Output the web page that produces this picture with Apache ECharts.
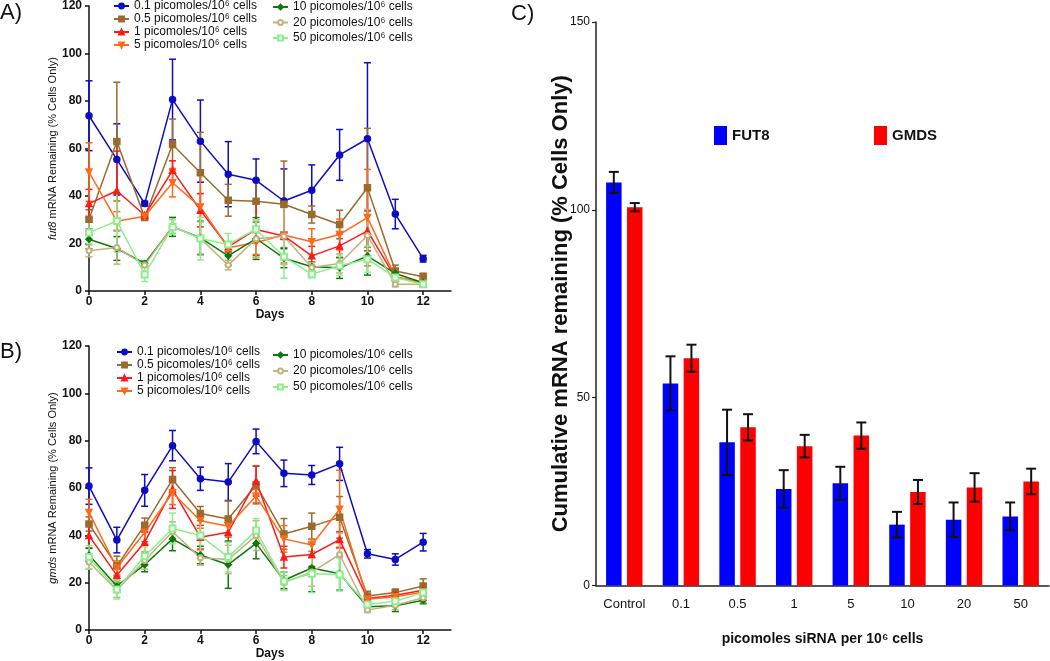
<!DOCTYPE html>
<html>
<head>
<meta charset="utf-8">
<script src="https://cdn.jsdelivr.net/npm/echarts@6/dist/echarts.min.js"></script>
<style>
  html, body { margin: 0; padding: 0; background: #fff; }
  #chart { width: 1050px; height: 661px; }
</style>
</head>
<body>
<div id="chart"></div>
<script>
// panels A and B: days after transfection
const days = [0, 1, 2, 3, 4, 5, 6, 7, 8, 9, 10, 11, 12];
const dayTicks = [0, 2, 4, 6, 8, 10, 12];
const doseNames = [
  "0.1 picomoles/10⁶ cells",
  "0.5 picomoles/10⁶ cells",
  "1 picomoles/10⁶ cells",
  "5 picomoles/10⁶ cells",
  "10 picomoles/10⁶ cells",
  "20 picomoles/10⁶ cells",
  "50 picomoles/10⁶ cells",
];

// A) fut8 mRNA remaining (mean, sem)
const fut8_01 = [73.8, 55.4, 36.8, 80.6, 63.1, 49.2, 46.6, 37.9, 42.4, 57.3, 64.1, 32.4, 13.6];
const fut8_01_err = [14.7, 15, 1, 17, 17.3, 13.7, 9, 13.5, 10.7, 10.7, 32, 6.2, 1.4];
const fut8_05 = [30.2, 62.9, 31.0, 61.7, 49.8, 38.2, 37.8, 36.5, 32.2, 28.0, 43.5, 8.4, 6.0];
const fut8_05_err = [4, 25, 1, 10.7, 17, 6.7, 8.8, 18.2, 3.6, 6, 25, 2.5, 1.5];
const fut8_1 = [36.8, 42.2, 31.9, 50.8, 34.0, 18.6, 25.9, 23.2, 14.8, 19.0, 25.3, 5.7, 3.5];
const fut8_1_err = [6, 16.7, 1, 4, 7, 2, 11, 1.5, 4, 5, 8.4, 1, 0.8];
const fut8_5 = [50.1, 29.4, 31.5, 45.6, 35.4, 18.2, 20.4, 23.6, 20.7, 23.8, 30.9, 6.0, 3.5];
const fut8_5_err = [12.3, 4, 1, 6, 13.6, 2, 5, 11.8, 5.5, 6.5, 20.3, 1, 0.8];
const fut8_10 = [21.8, 17.9, 11.6, 27.0, 22.4, 14.8, 22.1, 13.8, 10.2, 9.8, 14.7, 7.4, 3.5];
const fut8_10_err = [4, 5, 1, 4, 7, 4, 8.8, 4, 2, 4.5, 8, 1, 0.7];
const fut8_20 = [16.9, 18.3, 10.9, 27.3, 22.1, 10.9, 22.0, 23.1, 9.9, 11.6, 23.4, 2.8, 2.8];
const fut8_20_err = [2.5, 7, 1, 3, 7, 2, 8, 12, 2, 4, 11, 1, 0.6];
const fut8_50 = [24.6, 29.5, 7.0, 27.0, 22.1, 19.6, 26.0, 14.4, 7.1, 10.6, 13.4, 5.7, 2.8];
const fut8_50_err = [4.5, 13, 3, 3, 9, 4.6, 4, 9, 1.5, 4, 5.5, 1, 0.6];

// B) gmds mRNA remaining (mean, sem)
const gmds_01 = [60.8, 38.0, 59.0, 77.9, 63.9, 62.5, 79.7, 66.2, 65.5, 70.2, 32.2, 29.8, 37.1];
const gmds_01_err = [7.7, 5.4, 6.7, 6.4, 4.9, 7.8, 5.2, 5.6, 4, 7, 1.8, 2.4, 3.7];
const gmds_05 = [44.8, 27.0, 44.3, 63.6, 49.2, 46.9, 61.3, 40.6, 43.8, 47.6, 14.4, 15.8, 18.6];
const gmds_05_err = [3, 4.2, 3, 5, 3, 7.6, 8, 6.5, 5.6, 8.8, 2, 1.5, 3];
const gmds_1 = [39.9, 23.1, 37.1, 59.4, 39.2, 41.3, 62.9, 30.8, 31.9, 38.2, 13.3, 14.7, 16.8];
const gmds_1_err = [5.3, 3, 4.5, 8, 5, 4, 6.3, 4.6, 5, 3.3, 2, 2, 1.5];
const gmds_5 = [49.7, 26.2, 41.3, 58.0, 46.2, 43.8, 56.6, 38.5, 35.9, 51.0, 13.0, 14.0, 16.1];
const gmds_5_err = [5.5, 3, 4, 5, 3.2, 4, 2.8, 5.6, 2.6, 16.5, 1.5, 1.5, 1.5];
const gmds_10 = [31.7, 18.5, 27.6, 38.5, 31.7, 27.6, 36.6, 21.0, 26.2, 23.8, 9.8, 10.2, 12.6];
const gmds_10_err = [2.8, 2.5, 3, 5, 3.7, 10, 6.5, 3.5, 10, 7, 1.5, 2.4, 1.5];
const gmds_20 = [28.7, 16.8, 29.4, 41.5, 30.5, 29.8, 39.9, 20.0, 24.5, 31.9, 8.4, 10.5, 13.6];
const gmds_20_err = [3, 3, 3.7, 4.2, 3.1, 6, 6.3, 3, 6, 9, 1, 2, 2];
const gmds_50 = [30.8, 17.1, 31.2, 42.9, 39.9, 30.8, 42.0, 20.6, 23.8, 23.5, 10.8, 12.2, 15.8];
const gmds_50_err = [4.9, 4, 4, 6.5, 8.4, 6.3, 5.1, 3.9, 8, 7, 2, 2, 2];

// C) cumulative mRNA remaining
const doses = ["Control", "0.1", "0.5", "1", "5", "10", "20", "50"];
const fut8Cum = [107.3, 53.8, 38.1, 25.7, 27.2, 16.2, 17.5, 18.4];
const fut8CumErr = [2.8, 7.2, 8.7, 5, 4.4, 3.4, 4.6, 3.7];
const gmdsCum = [100.7, 60.5, 42.1, 37.1, 39.9, 24.9, 26.1, 27.7];
const gmdsCumErr = [1.1, 3.6, 3.5, 3, 3.5, 3.2, 3.8, 3.4];

const FONT = "Liberation Sans, Arial, sans-serif";
const lineColors = ["#0c0cc4", "#9c6a2e", "#ff1a1a", "#ff6a1a", "#0b7a0b", "#c2b27e", "#8cee8c"];
const lineSymbols = ["circle", "rect", "triangle", "triangle", "diamond", "emptyCircle", "emptyRect"];
const symbolRot = [0, 0, 0, 180, 0, 0, 0];
const symbolSizes = [6, 6, 6, 6, 6, 5, 6];

const fut8Sets = [
  [fut8_01, fut8_01_err], [fut8_05, fut8_05_err], [fut8_1, fut8_1_err], [fut8_5, fut8_5_err],
  [fut8_10, fut8_10_err], [fut8_20, fut8_20_err], [fut8_50, fut8_50_err],
];
const gmdsSets = [
  [gmds_01, gmds_01_err], [gmds_05, gmds_05_err], [gmds_1, gmds_1_err], [gmds_5, gmds_5_err],
  [gmds_10, gmds_10_err], [gmds_20, gmds_20_err], [gmds_50, gmds_50_err],
];

// vertical error bar with caps, optional pixel shift for grouped bars
function errorBar(shift, capHalf, width) {
  return function (params, api) {
    const x = api.value(0), y = api.value(1), e = api.value(2);
    const hi = api.coord([x, y + e]);
    const lo = api.coord([x, y - e]);
    const cx = hi[0] + shift;
    const style = { stroke: api.visual("color"), lineWidth: width };
    return {
      type: "group",
      children: [
        { type: "line", shape: { x1: cx, y1: hi[1], x2: cx, y2: lo[1] }, style },
        { type: "line", shape: { x1: cx - capHalf, y1: hi[1], x2: cx + capHalf, y2: hi[1] }, style },
        { type: "line", shape: { x1: cx - capHalf, y1: lo[1], x2: cx + capHalf, y2: lo[1] }, style },
      ],
    };
  };
}

function timeSeries(sets, axisIdx) {
  const out = [];
  sets.forEach(([vals, errs], k) => {
    out.push({
      type: "custom",
      xAxisIndex: axisIdx,
      yAxisIndex: axisIdx,
      renderItem: errorBar(0, 3.5, 1.5),
      itemStyle: { color: lineColors[k] },
      data: days.map((d, i) => [d, vals[i], errs[i]]),
      z: 2,
    });
    out.push({
      name: doseNames[k],
      type: "line",
      xAxisIndex: axisIdx,
      yAxisIndex: axisIdx,
      symbol: lineSymbols[k],
      symbolSize: symbolSizes[k],
      symbolRotate: symbolRot[k],
      lineStyle: { color: lineColors[k], width: 1.5 },
      itemStyle: { color: lineColors[k], borderColor: lineColors[k], borderWidth: 1.5 },
      data: days.map((d, i) => [d, vals[i]]),
      z: 3,
    });
  });
  return out;
}

const axisBlack = { lineStyle: { color: "#111", width: 1.5 } };

function daysXAxis(gridIndex) {
  return {
    type: "value",
    gridIndex,
    min: 0,
    max: 13,
    name: "Days",
    nameLocation: "middle",
    nameGap: 18,
    nameTextStyle: { fontFamily: FONT, fontSize: 12, fontWeight: "bold", color: "#111" },
    axisLine: axisBlack,
    axisTick: { show: true, length: 4, lineStyle: { color: "#111", width: 1.5 }, customValues: dayTicks },
    axisLabel: { customValues: dayTicks, fontFamily: FONT, fontSize: 12, fontWeight: "bold", color: "#111", margin: 5 },
    splitLine: { show: false },
  };
}

function pctYAxis(gridIndex, gene) {
  return {
    type: "value",
    gridIndex,
    min: 0,
    max: 120,
    interval: 20,
    name: "{i|" + gene + "} mRNA Remaining (% Cells Only)",
    nameLocation: "middle",
    nameRotate: 90,
    nameGap: 30,
    nameTextStyle: {
      fontFamily: FONT, fontSize: 11, color: "#111",
      rich: { i: { fontFamily: FONT, fontSize: 11, fontStyle: "italic", color: "#111" } },
    },
    axisLine: { show: true, ...axisBlack },
    axisTick: { show: true, length: 4, lineStyle: { color: "#111", width: 1.5 } },
    axisLabel: { fontFamily: FONT, fontSize: 12, fontWeight: "bold", color: "#111", margin: 7 },
    splitLine: { show: false },
  };
}

function doseLegend(names, left, top, gap) {
  return {
    data: names,
    orient: "vertical",
    left,
    top,
    padding: 0,
    itemGap: gap,
    itemWidth: 15,
    itemHeight: 6,
    selectedMode: false,
    textStyle: { fontFamily: FONT, fontSize: 12, color: "#111", lineHeight: 12 },
  };
}

const barLegendText = { fontFamily: FONT, fontSize: 15, fontWeight: "bold", color: "#111" };

const chart = echarts.init(document.getElementById("chart"));
chart.setOption({
  animation: false,
  backgroundColor: "#fff",
  textStyle: { fontFamily: FONT },
  graphic: [
    { type: "text", left: 0, top: 2, style: { text: "A)", fontFamily: FONT, fontSize: 22, fill: "#111" } },
    { type: "text", left: 0, top: 341, style: { text: "B)", fontFamily: FONT, fontSize: 22, fill: "#111" } },
    { type: "text", left: 511, top: 3, style: { text: "C)", fontFamily: FONT, fontSize: 22, fill: "#111" } },
  ],
  grid: [
    { left: 89, top: 5, width: 362, height: 286 },
    { left: 89, top: 346, width: 362, height: 286 },
    { left: 596, top: 22, width: 453, height: 563.5 },
  ],
  legend: [
    doseLegend(doseNames.slice(0, 4), 113, 0, 1),
    doseLegend(doseNames.slice(4), 272, 1, 3.5),
    doseLegend(doseNames.slice(0, 4), 116, 346, 1),
    doseLegend(doseNames.slice(4), 272, 349, 4),
    {
      data: ["FUT8"], left: 714, top: 126, padding: 0, itemWidth: 13, itemHeight: 19,
      icon: "rect", selectedMode: false, textStyle: barLegendText,
    },
    {
      data: ["GMDS"], left: 874, top: 126, padding: 0, itemWidth: 13, itemHeight: 19,
      icon: "rect", selectedMode: false, textStyle: barLegendText,
    },
  ],
  xAxis: [
    daysXAxis(0),
    daysXAxis(1),
    {
      type: "category",
      gridIndex: 2,
      data: doses,
      name: "picomoles siRNA per 10⁶ cells",
      nameLocation: "middle",
      nameGap: 47,
      nameTextStyle: { fontFamily: FONT, fontSize: 14, fontWeight: "bold", color: "#111" },
      axisLine: { lineStyle: { color: "#222", width: 1.5 } },
      axisTick: { alignWithLabel: true, length: 4, lineStyle: { color: "#222", width: 1.2 } },
      axisLabel: { fontFamily: FONT, fontSize: 13, color: "#111", margin: 12 },
    },
  ],
  yAxis: [
    pctYAxis(0, "fut8"),
    pctYAxis(1, "gmds"),
    {
      type: "value",
      gridIndex: 2,
      min: 0,
      max: 150,
      interval: 50,
      name: "Cumulative mRNA remaining (% Cells Only)",
      nameLocation: "middle",
      nameRotate: 90,
      nameGap: 24,
      nameMoveOverlap: false,
      nameTextStyle: { fontFamily: FONT, fontSize: 22, fontWeight: "bold", color: "#111" },
      axisLine: { show: true, lineStyle: { color: "#222", width: 1.5 } },
      axisTick: { show: true, length: 4, lineStyle: { color: "#222", width: 1.2 } },
      axisLabel: { fontFamily: FONT, fontSize: 12, color: "#111", margin: 6 },
      splitLine: { show: false },
    },
  ],
  series: [
    ...timeSeries(fut8Sets, 0),
    ...timeSeries(gmdsSets, 1),
    {
      name: "FUT8",
      type: "bar",
      xAxisIndex: 2,
      yAxisIndex: 2,
      barWidth: 15.5,
      barGap: "35%",
      itemStyle: { color: "#0000ff" },
      data: fut8Cum,
    },
    {
      name: "GMDS",
      type: "bar",
      xAxisIndex: 2,
      yAxisIndex: 2,
      barWidth: 15.5,
      barGap: "35%",
      itemStyle: { color: "#ff0000" },
      data: gmdsCum,
    },
    {
      type: "custom",
      xAxisIndex: 2,
      yAxisIndex: 2,
      renderItem: errorBar(-10.5, 5, 2),
      itemStyle: { color: "#111" },
      data: doses.map((d, i) => [i, fut8Cum[i], fut8CumErr[i]]),
      z: 5,
    },
    {
      type: "custom",
      xAxisIndex: 2,
      yAxisIndex: 2,
      renderItem: errorBar(10.5, 5, 2),
      itemStyle: { color: "#111" },
      data: doses.map((d, i) => [i, gmdsCum[i], gmdsCumErr[i]]),
      z: 5,
    },
  ],
});
</script>
</body>
</html>
